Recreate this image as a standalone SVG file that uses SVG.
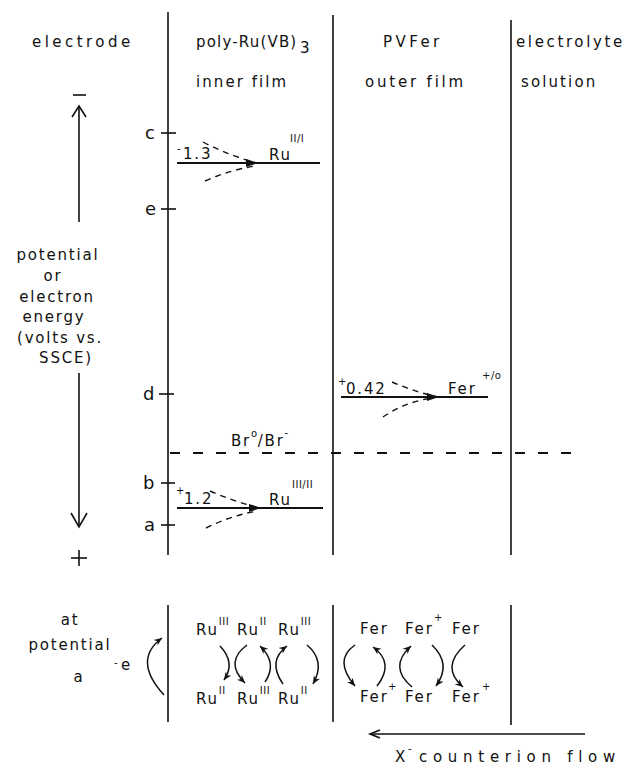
<svg xmlns="http://www.w3.org/2000/svg" width="639" height="768" viewBox="0 0 639 768">
<defs>
<style>
text{font-family:"DejaVu Sans","Liberation Sans",sans-serif;font-size:15px;letter-spacing:1.8px;fill:#111}
.big{font-size:18px;letter-spacing:0}
.sm{font-size:10px;letter-spacing:0.5px}
.ln{stroke:#111;stroke-width:1.6;fill:none}
.lv{stroke:#111;stroke-width:2;fill:none}
.ds{stroke:#111;stroke-width:1.4;fill:none;stroke-dasharray:6 5}
.br{stroke:#111;stroke-width:1.8;fill:none;stroke-dasharray:10 13}
.cv{stroke:#111;stroke-width:1.5;fill:none;marker-end:url(#ah)}
</style>
<marker id="ah" markerUnits="userSpaceOnUse" markerWidth="10" markerHeight="8" refX="8" refY="4" orient="auto">
<path d="M0,0.5 L8,4 L0,7.5 L2.5,4 Z" fill="#111"/>
</marker>
</defs>
<rect width="639" height="768" fill="#fff"/>

<g id="boundaries">
<line class="ln" x1="168" y1="12" x2="168" y2="555"/>
<line class="ln" x1="333" y1="15" x2="333" y2="555"/>
<line class="ln" x1="511" y1="20" x2="511" y2="555"/>
<line class="ln" x1="168" y1="605" x2="168" y2="722"/>
<line class="ln" x1="333" y1="605" x2="333" y2="722"/>
<line class="ln" x1="511" y1="605" x2="511" y2="725"/>
</g>

<g id="headers">
<text x="32" y="47" textLength="100" lengthAdjust="spacing">electrode</text>
<text x="196" y="47" textLength="102" lengthAdjust="spacing">poly-Ru(VB)</text>
<text x="300" y="53" letter-spacing="0">3</text>
<text x="383" y="47" textLength="58" lengthAdjust="spacing">PVFer</text>
<text x="516" y="47" textLength="108" lengthAdjust="spacing">electrolyte</text>
<text x="196" y="87" textLength="92" lengthAdjust="spacing">inner film</text>
<text x="365" y="87" textLength="100" lengthAdjust="spacing">outer film</text>
<text x="521" y="87" textLength="76" lengthAdjust="spacing">solution</text>
</g>

<g id="axis">
<line class="ln" x1="73" y1="95" x2="86" y2="95"/>
<line class="ln" x1="79" y1="107" x2="79" y2="222"/>
<polyline class="ln" points="72,117 79,106 86,117"/>
<text x="58" y="260" text-anchor="middle">potential</text>
<text x="53" y="281" text-anchor="middle">or</text>
<text x="57" y="302" text-anchor="middle">electron</text>
<text x="54" y="322" text-anchor="middle">energy</text>
<text x="60" y="343" text-anchor="middle">(volts vs.</text>
<text x="66" y="363" text-anchor="middle">SSCE)</text>
<line class="ln" x1="79" y1="373" x2="79" y2="526"/>
<polyline class="ln" points="71,513 79,527 87,513"/>
<line class="ln" x1="71" y1="558" x2="87" y2="558"/>
<line class="ln" x1="79" y1="550" x2="79" y2="566"/>
</g>

<g id="ticks">
<line class="ln" x1="161" y1="133" x2="176" y2="133"/>
<text class="big" x="145" y="139">c</text>
<line class="ln" x1="161" y1="209" x2="176" y2="209"/>
<text class="big" x="145" y="215">e</text>
<line class="ln" x1="159" y1="394" x2="174" y2="394"/>
<text class="big" x="143" y="400">d</text>
<line class="ln" x1="161" y1="483" x2="175" y2="483"/>
<text class="big" x="143" y="489">b</text>
<line class="ln" x1="161" y1="525" x2="175" y2="525"/>
<text class="big" x="144" y="531">a</text>
</g>

<g id="ru-II-I">
<line class="lv" x1="177" y1="163" x2="320" y2="163"/>
<path class="ds" d="M203,142 Q230,156 257,163"/>
<path class="ds" d="M205,181 Q230,170 255,166"/>
<path d="M246,159 L258,163 L246,167 Z" fill="#111"/>
<text class="sm" x="177" y="152">-</text>
<text x="183" y="159" letter-spacing="0.5">1.3</text>
<text x="269" y="160" letter-spacing="1">Ru</text>
<text class="sm" x="290" y="142">II/I</text>
</g>

<g id="fer">
<line class="lv" x1="341" y1="397" x2="488" y2="397"/>
<path class="ds" d="M392,382 Q415,392 438,397"/>
<path class="ds" d="M383,417 Q405,402 432,398"/>
<path d="M427,393 L439,397 L427,401 Z" fill="#111"/>
<text class="sm" x="338" y="385">+</text>
<text x="346" y="394" letter-spacing="1">0.42</text>
<text x="448" y="394" letter-spacing="1">Fer</text>
<text class="sm" x="482" y="379">+/o</text>
</g>

<g id="br">
<line class="br" x1="170" y1="453" x2="572" y2="453"/>
<text x="231" y="446" letter-spacing="1.5">Br<tspan class="sm" dy="-9">o</tspan><tspan dy="9">/Br</tspan><tspan class="sm" dy="-10">-</tspan></text>
</g>

<g id="ru-III-II">
<line class="lv" x1="177" y1="508" x2="323" y2="508"/>
<path class="ds" d="M210,491 Q235,502 260,508"/>
<path class="ds" d="M206,528 Q232,515 258,511"/>
<path d="M249,504 L261,508 L249,512 Z" fill="#111"/>
<text class="sm" x="176" y="494">+</text>
<text x="184" y="504" letter-spacing="0.5">1.2</text>
<text x="269" y="505" letter-spacing="1">Ru</text>
<text class="sm" x="292" y="488">III/II</text>
</g>

<g id="left-bottom">
<text x="70" y="625" text-anchor="middle">at</text>
<text x="70" y="650" text-anchor="middle">potential</text>
<text x="79" y="682" text-anchor="middle" font-size="22px" letter-spacing="0">a</text>
<text class="sm" x="114" y="666">-</text>
<text x="121" y="670" letter-spacing="0">e</text>
</g>

<g id="ru-row">
<text x="196" y="635" letter-spacing="0.5">Ru<tspan class="sm" dy="-10">III</tspan></text>
<text x="237" y="635" letter-spacing="0.5">Ru<tspan class="sm" dy="-10">II</tspan></text>
<text x="278" y="635" letter-spacing="0.5">Ru<tspan class="sm" dy="-10">III</tspan></text>
<text x="196" y="704" letter-spacing="0.5">Ru<tspan class="sm" dy="-10">II</tspan></text>
<text x="237" y="704" letter-spacing="0.5">Ru<tspan class="sm" dy="-10">III</tspan></text>
<text x="278" y="704" letter-spacing="0.5">Ru<tspan class="sm" dy="-10">II</tspan></text>
</g>

<g id="fer-row">
<text x="360" y="634" letter-spacing="0.5">Fer</text>
<text x="405" y="634" letter-spacing="0.5">Fer</text>
<text class="sm" x="434" y="621">+</text>
<text x="452" y="634" letter-spacing="0.5">Fer</text>
<text x="360" y="702" letter-spacing="0.5">Fer</text>
<text class="sm" x="388" y="690">+</text>
<text x="405" y="702" letter-spacing="0.5">Fer</text>
<text x="452" y="702" letter-spacing="0.5">Fer</text>
<text class="sm" x="482" y="690">+</text>
</g>

<g id="connectors">
<path class="cv" d="M164,695 Q132,660 162,638"/>
<path class="cv" d="M220,646 Q236,663 224,680"/>
<path class="cv" d="M247,645 Q224,662 245,683"/>
<path class="cv" d="M265,682 Q278,663 260,646"/>
<path class="cv" d="M283,684 Q267,661 287,646"/>
<path class="cv" d="M307,645 Q326,661 313,684"/>
<path class="cv" d="M355,645 Q333,660 355,686"/>
<path class="cv" d="M377,686 Q395,663 373,647"/>
<path class="cv" d="M412,687 Q388,667 411,646"/>
<path class="cv" d="M432,645 Q452,664 436,686"/>
<path class="cv" d="M465,645 Q440,667 463,687"/>
<line class="ln" x1="370" y1="734" x2="585" y2="734"/>
<polyline class="ln" points="380,730 370,734 380,738"/>
</g>

<g id="counterion">
<text x="395" y="762" letter-spacing="0">X</text>
<text class="sm" x="408" y="752">-</text>
<text x="419" y="762" textLength="198" lengthAdjust="spacing">counterion flow</text>
</g>
</svg>
